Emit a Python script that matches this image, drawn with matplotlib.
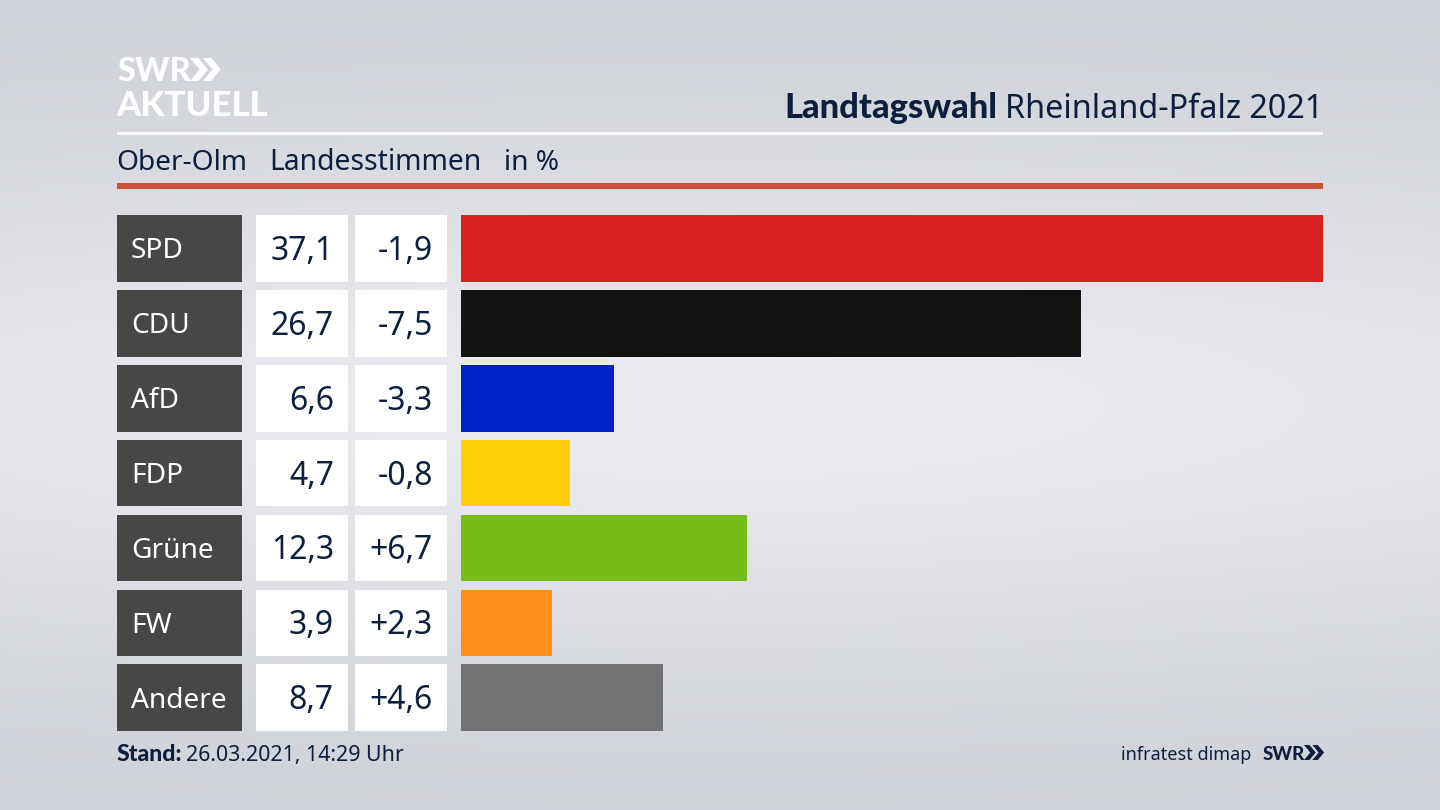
"""Landtagswahl Rheinland-Pfalz 2021, Ober-Olm: SWR result chart."""

import matplotlib
matplotlib.use("Agg")
import matplotlib.pyplot as plt
import numpy as np
from matplotlib.patches import Polygon, Rectangle

W, H = 1440, 810
NAVY = "#0d1f3c"
BOLD = ["Lato", "DejaVu Sans"]

parties = ["SPD", "CDU", "AfD", "FDP", "Grüne", "FW", "Andere"]
shares = [37.1, 26.7, 6.6, 4.7, 12.3, 3.9, 8.7]
changes = [-1.9, -7.5, -3.3, -0.8, 6.7, 2.3, 4.6]
colors = ["#d7201f", "#121212", "#0021c8", "#ffcc08", "#78bc1a", "#ff8f17", "#717274"]


def de(value, signed=False):
    """Format with a decimal comma, as on the chart."""
    text = f"{value:+.1f}" if signed else f"{value:.1f}"
    return text.replace(".", ",")


def chevrons(ax, x, y, h, color):
    """The two arrows of the SWR logo, x/y is the top left corner."""
    w = h * 0.42
    t = h * 0.36
    for dx in (0, h * 0.56):
        pts = [(x + dx, y), (x + dx + t, y), (x + dx + t + w, y + h / 2),
               (x + dx + t, y + h), (x + dx, y + h), (x + dx + w, y + h / 2)]
        ax.add_patch(Polygon(pts, closed=True, color=color, lw=0))


plt.rcParams["font.family"] = ["Noto Sans", "DejaVu Sans"]
fig = plt.figure(figsize=(W / 100, H / 100), dpi=100)

# overlay in pixel coordinates for background, header and table cells
ax = fig.add_axes([0, 0, 1, 1])
ax.set_xlim(0, W)
ax.set_ylim(H, 0)
ax.axis("off")

yy, xx = np.mgrid[0:1:200j, 0:1:356j]
glow = np.exp(-((yy - 0.5) / 0.33) ** 2) * (0.6 + 0.4 * np.exp(-((xx - 0.5) / 0.6) ** 2))
top = np.array([205, 208, 214])
mid = np.array([234, 235, 240])
bg = top + (mid - top) * glow[..., None]
ax.imshow(bg.astype(np.uint8), extent=[0, W, H, 0], aspect="auto", zorder=0, interpolation="bilinear")

# logo
ax.text(117, 81, "SWR", color="white", fontsize=23.5, family=BOLD, fontweight="black", va="baseline", ha="left")
chevrons(ax, 190, 58, 23, "white")
ax.text(116, 116, "AKTUELL", color="white", fontsize=25, family=BOLD, fontweight="black", va="baseline", ha="left")

# header
ax.text(1323, 118, "Rheinland-Pfalz 2021", color=NAVY, fontsize=23.3, ha="right", va="baseline")
ax.text(997, 118, "Landtagswahl", color=NAVY, fontsize=24.8, family=BOLD, fontweight="black", ha="right", va="baseline")
ax.add_patch(Rectangle((117, 132), 1206, 3, color="white", lw=0))
ax.text(116, 170, "Ober-Olm", color=NAVY, fontsize=20.2, va="baseline")
ax.text(269, 170, "Landesstimmen", color=NAVY, fontsize=20.4, va="baseline")
ax.text(504, 170, "in %", color=NAVY, fontsize=20.2, va="baseline")
ax.add_patch(Rectangle((117, 183), 1206, 6, color="#cc5138", lw=0))

# table cells
row_top = 215
row_pitch = 74.9
row_h = 66.7
for i, party in enumerate(parties):
    y = row_top + i * row_pitch
    mid_y = y + row_h / 2
    ax.add_patch(Rectangle((117, y), 124.5, row_h, color="#474745", lw=0))
    ax.add_patch(Rectangle((256, y), 92, row_h, color="white", lw=0))
    ax.add_patch(Rectangle((355, y), 92, row_h, color="white", lw=0))
    ax.text(131, mid_y + 10, party, color="white", fontsize=20.2, va="baseline")
    ax.text(334, mid_y + 11.5, de(shares[i]), color=NAVY, fontsize=23, ha="right", va="baseline")
    ax.text(433, mid_y + 11.5, de(changes[i], signed=True), color=NAVY, fontsize=23, ha="right", va="baseline")

# footer
ax.text(117, 761, "Stand:", color=NAVY, fontsize=16.6, family=BOLD, fontweight="black", va="baseline")
ax.text(186, 761, "26.03.2021, 14:29 Uhr", color=NAVY, fontsize=15.4, va="baseline")
ax.text(1251, 760, "infratest dimap", color=NAVY, fontsize=13, ha="right", va="baseline")
ax.text(1263, 760, "SWR", color=NAVY, fontsize=13.5, family=BOLD, fontweight="black", va="baseline")
chevrons(ax, 1304, 745, 15, NAVY)

# bars, on their own axes so the share scale does the sizing
bar_top = row_top + row_h / 2 - row_pitch / 2
bar_ax = fig.add_axes([461 / W, 1 - (bar_top + 7 * row_pitch) / H, (1323 - 461) / W, 7 * row_pitch / H])
bar_ax.barh(range(len(parties)), shares, height=row_h / row_pitch, color=colors)
bar_ax.set_xlim(0, max(shares))
bar_ax.set_ylim(6.5, -0.5)
bar_ax.axis("off")

fig.savefig("out.png", dpi=100)
